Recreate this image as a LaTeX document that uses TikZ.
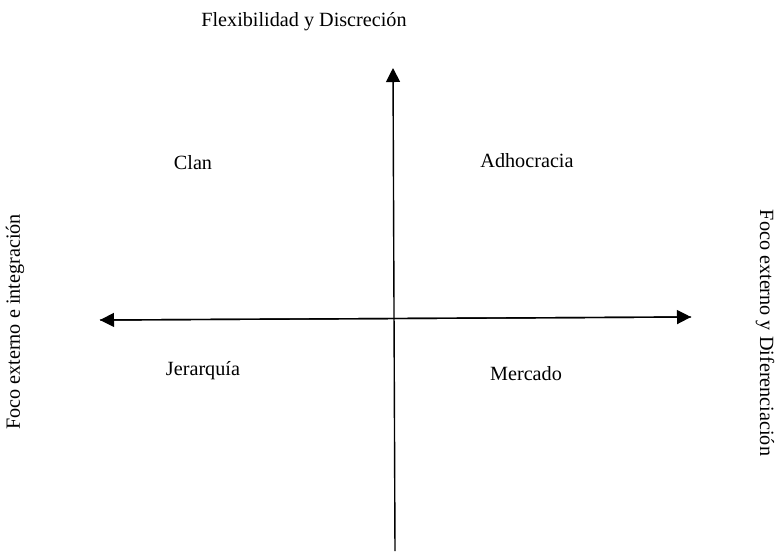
\documentclass[tikz,border=0pt]{standalone}
\usepackage{fontspec}
\setmainfont{Liberation Serif}
\usetikzlibrary{arrows.meta}
\tikzset{axis/.style = {line width = 0.7pt},
         tip/.style = {-{Triangle[length = 7pt, width = 7pt]}},
         lbl/.style = {font = \fontsize{10.1}{12}\selectfont, inner sep = 0}}

\begin{document}
\begin{tikzpicture}[x = 0.5pt, y = -0.5pt]
      \useasboundingbox (0, 0) rectangle (778, 554);
      \coordinate (west) at (100, 320);
      \coordinate (east) at (691, 317);
      \coordinate (north) at (393, 68);
      \coordinate (south) at (395, 551);
      \draw [axis, tip] (south) -- (north);
      \draw [axis, tip] (west) -- (east);
      \draw [axis, tip] (east) -- (west);
      \node [lbl] (top) at (304, 22) {Flexibilidad y Discreción};
      \node [lbl] (clan) at (193, 163) {Clan};
      \node [lbl] (adhoc) at (527, 161) {Adhocracia};
      \node [lbl] (jerar) at (203, 371) {Jerarquía};
      \node [lbl] (merc) at (526, 374) {Mercado};
      \node [lbl, rotate = 90] (left) at (15, 322) {Foco externo e integración};
      \node [lbl, rotate = -90] (right) at (765, 333) {Foco externo y Diferenciación};
    \end{tikzpicture}
\end{document}
